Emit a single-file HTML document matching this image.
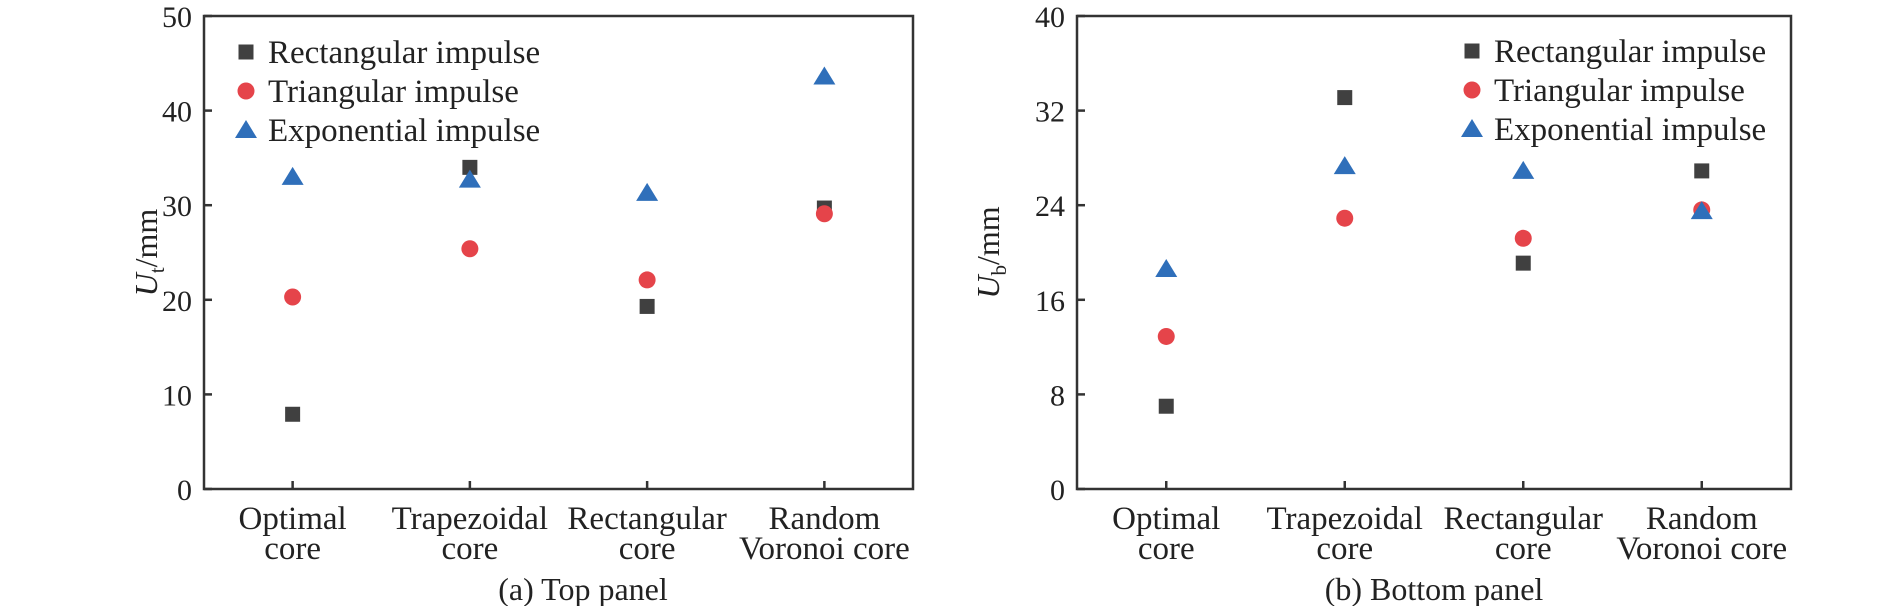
<!DOCTYPE html>
<html><head><meta charset="utf-8"><style>
body{margin:0;background:#fff}
svg text{font-family:"Liberation Serif",serif;fill:#222}
</style></head><body>
<svg id="c" width="1890" height="606" xmlns="http://www.w3.org/2000/svg"></svg>
<script>
const categories=[["Optimal","core"],["Trapezoidal","core"],["Rectangular","core"],["Random","Voronoi core"]];
const seriesNames=["Rectangular impulse","Triangular impulse","Exponential impulse"];
const topRect=[7.9,34.0,19.3,29.7];
const topTri=[20.3,25.4,22.1,29.1];
const topExp=[33.0,32.7,31.3,43.6];
const botRect=[7.0,33.1,19.1,26.9];
const botTri=[12.9,22.9,21.2,23.6];
const botExp=[18.6,27.3,26.9,23.5];
const topTicks=[0,10,20,30,40,50];
const botTicks=[0,8,16,24,32,40];
const NS="http://www.w3.org/2000/svg";
const svg=document.getElementById('c');
function mk(tag,attrs,parent){const e=document.createElementNS(NS,tag);for(const k in attrs)e.setAttribute(k,attrs[k]);(parent||svg).appendChild(e);return e;}
const colors=["#404040","#e5444a","#2f6fba"];
function marker(g,type,x,y){
  let e;
  if(type===0)e=mk('rect',{x:x-7.5,y:y-7.5,width:15,height:15,fill:colors[0]},g);
  else if(type===1)e=mk('circle',{cx:x,cy:y,r:8.5,fill:colors[1]},g);
  else e=mk('polygon',{points:`${x},${y-10} ${x+11},${y+8} ${x-11},${y+8}`,fill:colors[2]},g);
  return e;
}
function panel(o){
  const g=mk('g',{});
  
  
  const {L,R,T,B,ymax,ticks}=o;
  const xs=i=>L+(R-L)*(i+0.5)/categories.length;
  const ys=v=>B-(B-T)*v/ymax;
  const frame=mk('rect',{x:L,y:T,width:R-L,height:B-T,fill:'none',stroke:'#333','stroke-width':2.5},g);
  
  
  ticks.forEach(t=>{
    const y=ys(t);
    mk('line',{x1:L,x2:L+8,y1:y,y2:y,stroke:'#333','stroke-width':2.5},g);
    const tx=mk('text',{x:L-12,y:y+11,'font-size':30,'text-anchor':'end'},g);
    tx.textContent=t;
    
    
  });
  categories.forEach((c,i)=>{
    const x=xs(i);
    mk('line',{x1:x,x2:x,y1:B,y2:B-8,stroke:'#333','stroke-width':2.5},g);
    c.forEach((s,j)=>{
      const tx=mk('text',{x:x,y:B+40+j*30,'font-size':33,'text-anchor':'middle'},g);
      tx.textContent=s;
      
      
    });
  });
  const yt=mk('text',{transform:`translate(${o.ytX},${(T+B)/2}) rotate(-90)`,'font-size':32,'text-anchor':'middle'},g);
  yt.innerHTML=`<tspan font-style="italic">U</tspan><tspan font-size="21" dy="7">${o.sub}</tspan><tspan dy="-7">/mm</tspan>`;
  
  
  [o.s0,o.s1,o.s2].forEach((arr,si)=>{
    arr.forEach((v,i)=>{
      const m=marker(g,si,xs(i),ys(v));
      
      
    });
  });
  seriesNames.forEach((n,si)=>{
    const y=o.legY+si*39;
    const m=marker(g,si,o.legX,y);
    
    
    const tx=mk('text',{x:o.legX+22,y:y+11,'font-size':33},g);
    tx.textContent=n;
    
    
  });
  const cap=mk('text',{x:o.capX,y:600,'font-size':32,'text-anchor':'middle'},g);
  cap.textContent=o.caption;
  
  
}
panel({name:'top-panel-chart',L:204,R:913,T:16,B:489,ymax:50,ticks:topTicks,s0:topRect,s1:topTri,s2:topExp,sub:'t',ytX:157,legX:246,legY:52,capX:583,caption:'(a) Top panel'});
panel({name:'bottom-panel-chart',L:1077,R:1791,T:16,B:489,ymax:40,ticks:botTicks,s0:botRect,s1:botTri,s2:botExp,sub:'b',ytX:999,legX:1472,legY:51,capX:1434,caption:'(b) Bottom panel'});
</script>
</body></html>
